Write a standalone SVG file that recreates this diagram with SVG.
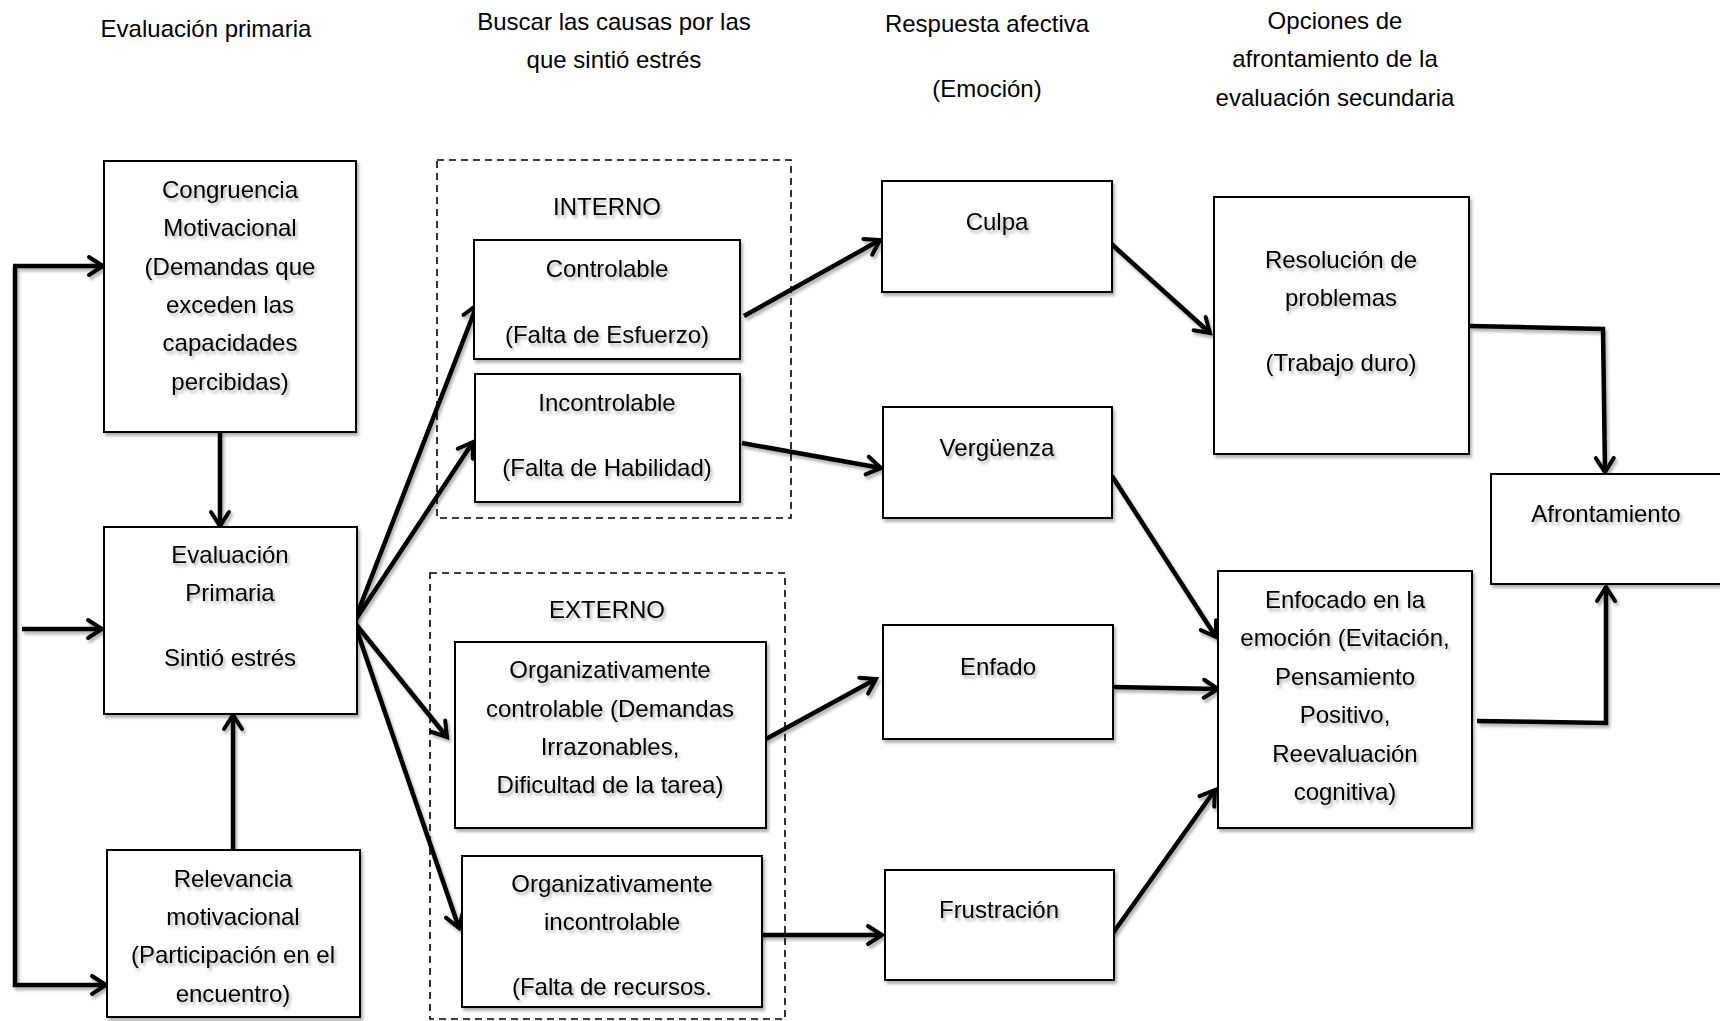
<svg xmlns="http://www.w3.org/2000/svg" width="1720" height="1021" viewBox="0 0 1720 1021">
<style>
text{font-family:"Liberation Sans",Arial,sans-serif;font-size:24px;fill:#000;text-anchor:middle}
.box{fill:#fff;stroke:#000;stroke-width:2}
.dash{fill:none;stroke:#000;stroke-width:1.6;stroke-dasharray:7 5}
.c{fill:none;stroke:#000;stroke-width:4.5;stroke-linejoin:miter}
.t{filter:url(#sh)}
</style>
<defs>
<filter id="sh" x="-10%" y="-10%" width="130%" height="140%">
<feDropShadow dx="2" dy="3" stdDeviation="1.6" flood-color="#000" flood-opacity="0.3"/>
</filter>
<marker id="ah" markerUnits="userSpaceOnUse" markerWidth="24" markerHeight="24" viewBox="0 0 24 24" refX="19" refY="12" orient="auto">
<path d="M5,3 L19,12 L5,21" fill="none" stroke="#000" stroke-width="4" stroke-linecap="round" stroke-linejoin="miter"/>
</marker>
</defs>
<rect width="1720" height="1021" fill="#fff"/>

<g id="headers">
<text x="206" y="37">Evaluación primaria</text>
<text x="614" y="30">Buscar las causas por las</text>
<text x="614" y="68">que sintió estrés</text>
<text x="987" y="32">Respuesta afectiva</text>
<text x="987" y="97">(Emoción)</text>
<text x="1335" y="29">Opciones de</text>
<text x="1335" y="67">afrontamiento de la</text>
<text x="1335" y="106">evaluación secundaria</text>
</g>

<g id="grupo-interno">
<rect class="dash" x="437" y="160" width="354" height="358"/>
<text class="t" x="607" y="215">INTERNO</text>
</g>
<g id="grupo-externo">
<rect class="dash" x="430" y="573" width="355" height="446"/>
<text class="t" x="607" y="618">EXTERNO</text>
</g>

<g id="connectors" filter="url(#sh)">
<polyline class="c" points="15,266 15,985 106,985" marker-end="url(#ah)"/>
<line class="c" x1="13" y1="266" x2="103" y2="266" marker-end="url(#ah)"/>
<line class="c" x1="22" y1="629" x2="102" y2="629" marker-end="url(#ah)"/>
<line class="c" x1="220" y1="432" x2="220" y2="526" marker-end="url(#ah)"/>
<line class="c" x1="233" y1="850" x2="233" y2="715" marker-end="url(#ah)"/>
<line class="c" x1="354" y1="622" x2="477" y2="305" marker-end="url(#ah)"/>
<line class="c" x1="354" y1="622" x2="473" y2="442" marker-end="url(#ah)"/>
<line class="c" x1="354" y1="622" x2="447" y2="737" marker-end="url(#ah)"/>
<line class="c" x1="354" y1="622" x2="459" y2="928" marker-end="url(#ah)"/>
<line class="c" x1="744" y1="316" x2="880" y2="240" marker-end="url(#ah)"/>
<line class="c" x1="742" y1="443" x2="881" y2="468" marker-end="url(#ah)"/>
<line class="c" x1="766" y1="739" x2="876" y2="679" marker-end="url(#ah)"/>
<line class="c" x1="759" y1="935" x2="882" y2="935" marker-end="url(#ah)"/>
<line class="c" x1="1107" y1="240" x2="1210" y2="333" marker-end="url(#ah)"/>
<line class="c" x1="1112" y1="476" x2="1216" y2="637" marker-end="url(#ah)"/>
<line class="c" x1="1113" y1="687" x2="1218" y2="689" marker-end="url(#ah)"/>
<line class="c" x1="1113" y1="933" x2="1215" y2="790" marker-end="url(#ah)"/>
<polyline class="c" points="1470,326 1603,329 1605,472" marker-end="url(#ah)"/>
<polyline class="c" points="1477,721 1606,723 1606,587" marker-end="url(#ah)"/>
</g>

<g id="congruencia">
<rect class="box t" x="104" y="161" width="252" height="271"/>
<g class="t">
<text x="230" y="198">Congruencia</text>
<text x="230" y="236">Motivacional</text>
<text x="230" y="275">(Demandas que</text>
<text x="230" y="313">exceden las</text>
<text x="230" y="351">capacidades</text>
<text x="230" y="390">percibidas)</text>
</g>
</g>

<g id="evaluacion-primaria">
<rect class="box t" x="104" y="527" width="253" height="187"/>
<g class="t">
<text x="230" y="563">Evaluación</text>
<text x="230" y="601">Primaria</text>
<text x="230" y="666">Sintió estrés</text>
</g>
</g>

<g id="relevancia">
<rect class="box t" x="107" y="850" width="253" height="167"/>
<g class="t">
<text x="233" y="887">Relevancia</text>
<text x="233" y="925">motivacional</text>
<text x="233" y="963">(Participación en el</text>
<text x="233" y="1002">encuentro)</text>
</g>
</g>

<g id="controlable">
<rect class="box t" x="474" y="240" width="266" height="119"/>
<g class="t">
<text x="607" y="277">Controlable</text>
<text x="607" y="343">(Falta de Esfuerzo)</text>
</g>
</g>

<g id="incontrolable">
<rect class="box t" x="475" y="374" width="265" height="128"/>
<g class="t">
<text x="607" y="411">Incontrolable</text>
<text x="607" y="476">(Falta de Habilidad)</text>
</g>
</g>

<g id="org-controlable">
<rect class="box t" x="455" y="642" width="311" height="186"/>
<g class="t">
<text x="610" y="678">Organizativamente</text>
<text x="610" y="717">controlable (Demandas</text>
<text x="610" y="755">Irrazonables,</text>
<text x="610" y="793">Dificultad de la tarea)</text>
</g>
</g>

<g id="org-incontrolable">
<rect class="box t" x="462" y="856" width="300" height="151"/>
<g class="t">
<text x="612" y="892">Organizativamente</text>
<text x="612" y="930">incontrolable</text>
<text x="612" y="995">(Falta de recursos.</text>
</g>
</g>

<g id="culpa">
<rect class="box t" x="882" y="181" width="230" height="111"/>
<text class="t" x="997" y="230">Culpa</text>
</g>

<g id="verguenza">
<rect class="box t" x="883" y="407" width="229" height="111"/>
<text class="t" x="997" y="456">Vergüenza</text>
</g>

<g id="enfado">
<rect class="box t" x="883" y="625" width="230" height="114"/>
<text class="t" x="998" y="675">Enfado</text>
</g>

<g id="frustracion">
<rect class="box t" x="885" y="870" width="229" height="110"/>
<text class="t" x="999" y="918">Frustración</text>
</g>

<g id="resolucion">
<rect class="box t" x="1214" y="197" width="255" height="257"/>
<g class="t">
<text x="1341" y="268">Resolución de</text>
<text x="1341" y="306">problemas</text>
<text x="1341" y="371">(Trabajo duro)</text>
</g>
</g>

<g id="enfocado">
<rect class="box t" x="1218" y="571" width="254" height="257"/>
<g class="t">
<text x="1345" y="608">Enfocado en la</text>
<text x="1345" y="646">emoción (Evitación,</text>
<text x="1345" y="685">Pensamiento</text>
<text x="1345" y="723">Positivo,</text>
<text x="1345" y="762">Reevaluación</text>
<text x="1345" y="800">cognitiva)</text>
</g>
</g>

<g id="afrontamiento">
<rect class="box t" x="1491" y="474" width="240" height="110"/>
<text class="t" x="1606" y="522">Afrontamiento</text>
</g>
</svg>
